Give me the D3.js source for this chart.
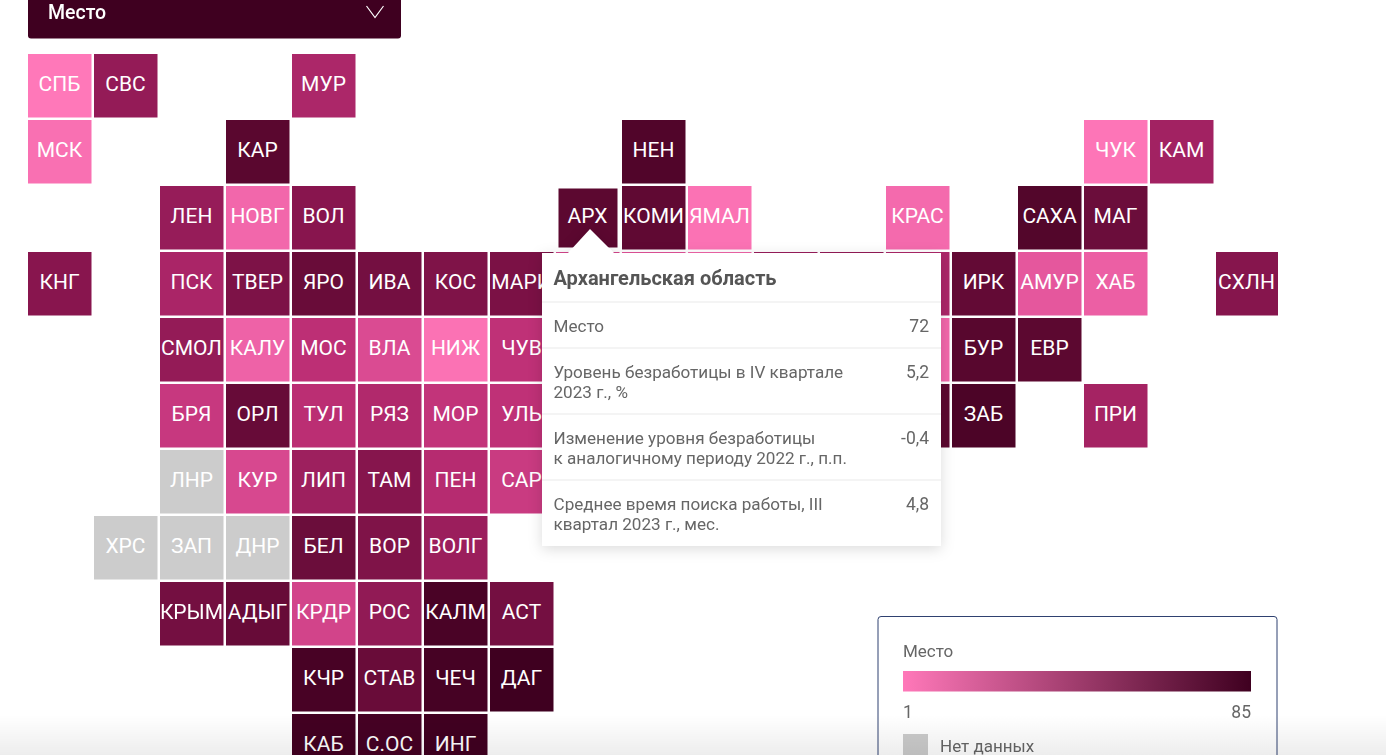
<!DOCTYPE html>
<html>
<head>
<meta charset="utf-8">
<script src="https://cdn.jsdelivr.net/npm/d3@7"></script>
<style>
  html, body { margin: 0; background: #fff; overflow: hidden; }
  svg { display: block; font-family: Roboto, sans-serif; filter: blur(0.35px); }
</style>
</head>
<body>
<svg id="chart" width="1386" height="755"></svg>
<script>
// tile map rows: "." is an empty cell, "?" is a tile hidden under the tooltip
const codeRows = [
  "СПБ СВС . . МУР",
  "МСК . . КАР . . . . . НЕН . . . . . . ЧУК КАМ",
  ". . ЛЕН НОВГ ВОЛ . . . АРХ КОМИ ЯМАЛ . . КРАС . САХА МАГ",
  "КНГ . ПСК ТВЕР ЯРО ИВА КОС МАРИ ? ? ? ? ? ? ИРК АМУР ХАБ . СХЛН",
  ". . СМОЛ КАЛУ МОС ВЛА НИЖ ЧУВ . . . . . ? БУР ЕВР",
  ". . БРЯ ОРЛ ТУЛ РЯЗ МОР УЛЬ . . . . . ? ЗАБ . ПРИ",
  ". . ЛНР КУР ЛИП ТАМ ПЕН САР",
  ". ХРС ЗАП ДНР БЕЛ ВОР ВОЛГ",
  ". . КРЫМ АДЫГ КРДР РОС КАЛМ АСТ",
  ". . . . КЧР СТАВ ЧЕЧ ДАГ",
  ". . . . КАБ С.ОС ИНГ"
];
// place in the ranking for each tile of the row, in the same order; null = no data
const rankRows = [
  [1, 47, 37],
  [4, 73, 77, 2, 41],
  [46, 7, 52, 72, 70, 3, 6, 76, 65],
  [52, 38, 57, 66, 61, 56, 58, 20, 15, 8, 45, 47, 37, 69, 13, 10, 53],
  [47, 9, 30, 18, 3, 29, 7, 74, 72],
  [26, 67, 31, 35, 28, 29, 72, 79, 40],
  [null, 19, 43, 53, 33, 25],
  [null, null, null, 65, 56, 44],
  [61, 67, 21, 48, 80, 61],
  [81, 66, 82, 85],
  [83, 82, 84]
];

const hovered = "АРХ";
const tooltipTitle = "Архангельская область";
const tooltipRows = [
  { lines: ["Место"], value: "72" },
  { lines: ["Уровень безработицы в IV квартале", "2023 г., %"], value: "5,2" },
  { lines: ["Изменение уровня безработицы", "к аналогичному периоду 2022 г., п.п."], value: "-0,4" },
  { lines: ["Среднее время поиска работы, III", "квартал 2023 г., мес."], value: "4,8" }
];
const legendTitle = "Место";
const legendDomain = [1, 85];
const noDataLabel = "Нет данных";
const dropdownLabel = "Место";

const svg = d3.select("#chart");
const defs = svg.append("defs");

const tiles = [];
codeRows.forEach((row, r) => {
  let k = 0;
  row.split(" ").forEach((code, c) => {
    if (code === ".") return;
    tiles.push({ code: code === "?" ? "" : code, col: c, row: r, rank: rankRows[r][k++] });
  });
});

const x = d3.scaleBand().domain(d3.range(19)).range([28, 1280]).paddingInner(2 / 66);
const y = d3.scaleBand().domain(d3.range(11)).range([54, 778]).paddingInner(2 / 66);

const color = d3.scaleLinear()
  .domain([1, 14, 30, 51, 72, 85])
  .range(["#ff78b9", "#e3549b", "#bd2f75", "#8a1650", "#5c0830", "#3f0020"]);

// dropdown
svg.append("rect")
  .attr("x", 28).attr("y", -10).attr("width", 373).attr("height", 48.5)
  .attr("rx", 3).attr("fill", "#3f0020");
svg.append("text")
  .attr("x", 48).attr("y", 19)
  .attr("fill", "#fff").attr("font-size", 19.5).attr("font-weight", 500)
  .text(dropdownLabel);
svg.append("path")
  .attr("d", "M366.5,6 L375,17.5 L383.5,6")
  .attr("fill", "none").attr("stroke", "#fff").attr("stroke-width", 1.2);

// tiles
defs.append("clipPath").attr("id", "mapClip")
  .append("rect").attr("x", 0).attr("y", 0).attr("width", 1277.5).attr("height", 755);

const tile = svg.append("g").attr("clip-path", "url(#mapClip)").selectAll("g")
  .data(tiles)
  .join("g")
  .attr("transform", d => `translate(${x(d.col)},${y(d.row)})`);

tile.append("rect")
  .attr("x", d => d.code === hovered ? 2.5 : 0)
  .attr("y", d => d.code === hovered ? 2.5 : 0)
  .attr("width", d => x.bandwidth() - (d.code === hovered ? 5 : 0.5))
  .attr("height", d => y.bandwidth() - (d.code === hovered ? 5 : 0.5))
  .attr("fill", d => d.rank == null ? "#cccccc" : color(d.rank));

tile.filter(d => d.code)
  .append("text")
  .attr("x", d => x.bandwidth() / 2 - (d.code === "СХЛН" ? 1.5 : 0.5))
  .attr("y", y.bandwidth() / 2 + 5)
  .attr("text-anchor", "middle")
  .attr("fill", "#fff")
  .attr("font-size", 21)
  .text(d => d.code);

// tooltip
const shadow = defs.append("filter").attr("id", "tipShadow")
  .attr("x", "-10%").attr("y", "-10%").attr("width", "120%").attr("height", "120%");
shadow.append("feDropShadow")
  .attr("dx", 0).attr("dy", 3).attr("stdDeviation", 7)
  .attr("flood-color", "#000").attr("flood-opacity", 0.14);

const tip = svg.append("g");
tip.append("path")
  .attr("d", "M542,253 H568 L590,229 L614,253 H941 V546 H542 Z")
  .attr("fill", "#fff")
  .attr("filter", "url(#tipShadow)");
tip.append("text")
  .attr("x", 553.5).attr("y", 285)
  .attr("fill", "#555").attr("font-size", 20).attr("font-weight", 700)
  .text(tooltipTitle);

let rowTop = 302;
tooltipRows.forEach(d => {
  tip.append("line")
    .attr("x1", 542).attr("x2", 941).attr("y1", rowTop).attr("y2", rowTop)
    .attr("stroke", "#f0f0f0").attr("stroke-width", 1.5);
  d.lines.forEach((line, i) => {
    tip.append("text")
      .attr("x", 553.5).attr("y", rowTop + 30 + i * 20)
      .attr("fill", "#666").attr("font-size", 17.1)
      .text(line);
  });
  tip.append("text")
    .attr("x", 929).attr("y", rowTop + 30)
    .attr("text-anchor", "end")
    .attr("fill", "#666").attr("font-size", 17.5)
    .text(d.value);
  rowTop += d.lines.length === 1 ? 46 : 66;
});

// legend
const legendScale = d3.scaleLinear().domain(legendDomain).range([903, 1251]);
const gradient = defs.append("linearGradient").attr("id", "legendRamp");
gradient.append("stop").attr("offset", "0%").attr("stop-color", color(legendDomain[0]));
gradient.append("stop").attr("offset", "100%").attr("stop-color", color(legendDomain[1]));

const legend = svg.append("g");
legend.append("rect")
  .attr("x", 878).attr("y", 616.5).attr("width", 399).attr("height", 160)
  .attr("rx", 3).attr("fill", "#fff").attr("stroke", "#2f4170").attr("stroke-width", 1);
legend.append("text")
  .attr("x", 903).attr("y", 657)
  .attr("fill", "#666").attr("font-size", 17)
  .text(legendTitle);
legend.append("rect")
  .attr("x", legendScale(legendDomain[0])).attr("y", 671)
  .attr("width", legendScale(legendDomain[1]) - legendScale(legendDomain[0])).attr("height", 20.5)
  .attr("fill", "url(#legendRamp)");
legendDomain.forEach((v, i) => {
  legend.append("text")
    .attr("x", legendScale(v)).attr("y", 718)
    .attr("text-anchor", i ? "end" : "start")
    .attr("fill", "#666").attr("font-size", 17.5)
    .text(v);
});
legend.append("rect")
  .attr("x", 903).attr("y", 734).attr("width", 25).attr("height", 25)
  .attr("fill", "#cbcbcb");
legend.append("text")
  .attr("x", 940).attr("y", 752)
  .attr("fill", "#666").attr("font-size", 17)
  .text(noDataLabel);

// soft fade along the bottom of the window
const fade = defs.append("linearGradient").attr("id", "bottomFade")
  .attr("x1", 0).attr("x2", 0).attr("y1", 0).attr("y2", 1);
fade.append("stop").attr("offset", "0%").attr("stop-color", "#000").attr("stop-opacity", 0);
fade.append("stop").attr("offset", "100%").attr("stop-color", "#000").attr("stop-opacity", 0.07);
svg.append("rect")
  .attr("x", 0).attr("y", 715).attr("width", 1386).attr("height", 40)
  .attr("fill", "url(#bottomFade)");
</script>
</body>
</html>
